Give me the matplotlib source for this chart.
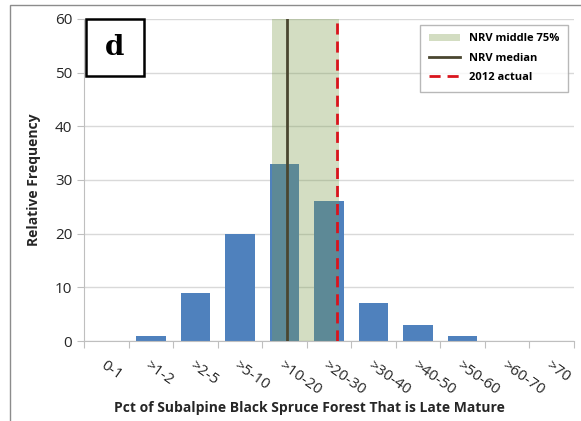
import matplotlib.pyplot as plt
import numpy as np
from matplotlib.patches import Rectangle

plt.rcParams['font.family'] = ['Open Sans', 'DejaVu Sans']

categories = ['0-1', '>1-2', '>2-5', '>5-10', '>10-20', '>20-30',
              '>30-40', '>40-50', '>50-60', '>60-70', '>70']
freq = [0, 1, 9, 20, 33, 26, 7, 3, 1, 0, 0]

# NRV band / median / 2012 actual, in category-index units
nrv_lo, nrv_hi = 3.72, 5.23
nrv_median = 4.06
actual_2012 = 5.19

fig = plt.figure(figsize=(5.81, 4.21), dpi=100)
ax = fig.add_axes([0.1446, 0.19, 0.8434, 0.765])

x = np.arange(len(categories))
ax.bar(x, freq, width=0.66, color='#4F81BD', zorder=2)
ax.axvspan(nrv_lo, nrv_hi, color='#7A9A48', alpha=0.33, lw=0, zorder=3,
           label='NRV middle 75%')
ax.axvline(nrv_median, color='#4A4630', lw=2, zorder=4, label='NRV median')
ax.axvline(actual_2012, color='#D9141C', lw=2, ls=(0, (4, 2.5)), zorder=4,
           label='2012 actual')

ax.set_xlim(-0.5, len(categories) - 0.5)
ax.set_ylim(0, 60)
ax.set_yticks(range(0, 61, 10))
ax.set_xticks(np.arange(-0.5, len(categories)), minor=False)
ax.set_xticklabels([])
ax.set_xticks(x, minor=True)
ax.set_xticklabels(categories, minor=True, rotation=-35, ha='left',
                   va='top', rotation_mode='anchor', fontsize=11,
                   color='#262626')
ax.tick_params(axis='x', which='minor', length=0, pad=12)
ax.tick_params(axis='x', which='major', length=5, color='#BFBFBF')
ax.tick_params(axis='y', length=5, color='#BFBFBF', labelsize=11,
               labelcolor='#262626')
ax.grid(axis='y', color='#D9D9D9', lw=1, zorder=0)
for s in ['top', 'right']:
    ax.spines[s].set_visible(False)
ax.spines['left'].set_color('#BFBFBF')
ax.spines['bottom'].set_color('#BFBFBF')

ax.set_ylabel('Relative Frequency', fontsize=10, fontweight='bold',
              color='#262626')
ax.yaxis.set_label_coords(-0.087, 0.5)
ax.set_xlabel('Pct of Subalpine Black Spruce Forest That is Late Mature',
              fontsize=10, fontweight='bold', color='#262626', va='center')
ax.xaxis.set_label_coords(0.46, -0.208)

leg = ax.legend(loc='upper right', fontsize=8, frameon=True, fancybox=False,
                edgecolor='#A6A6A6', handlelength=2.8, borderpad=0.8,
                labelspacing=0.75, bbox_to_anchor=(1.0, 1.0))
for t in leg.get_texts():
    t.set_fontweight('bold')
leg.get_frame().set_linewidth(1)

# panel letter box
ax.add_patch(Rectangle((0.004, 0.822), 0.118, 0.178, transform=ax.transAxes,
                       fc='white', ec='black', lw=1.8, zorder=6,
                       clip_on=False))
ax.text(0.063, 0.911, 'd', transform=ax.transAxes, fontsize=20,
        fontweight='bold', family='DejaVu Serif', ha='center', va='center',
        zorder=7)

# outer frame (left and top edges visible)
fig.patches.append(Rectangle((10 / 581, -0.1), 1.2, 1.1 - 5 / 421,
                             transform=fig.transFigure, fill=False,
                             ec='#8C8C8C', lw=1))

fig.savefig('out.png', dpi=100)
